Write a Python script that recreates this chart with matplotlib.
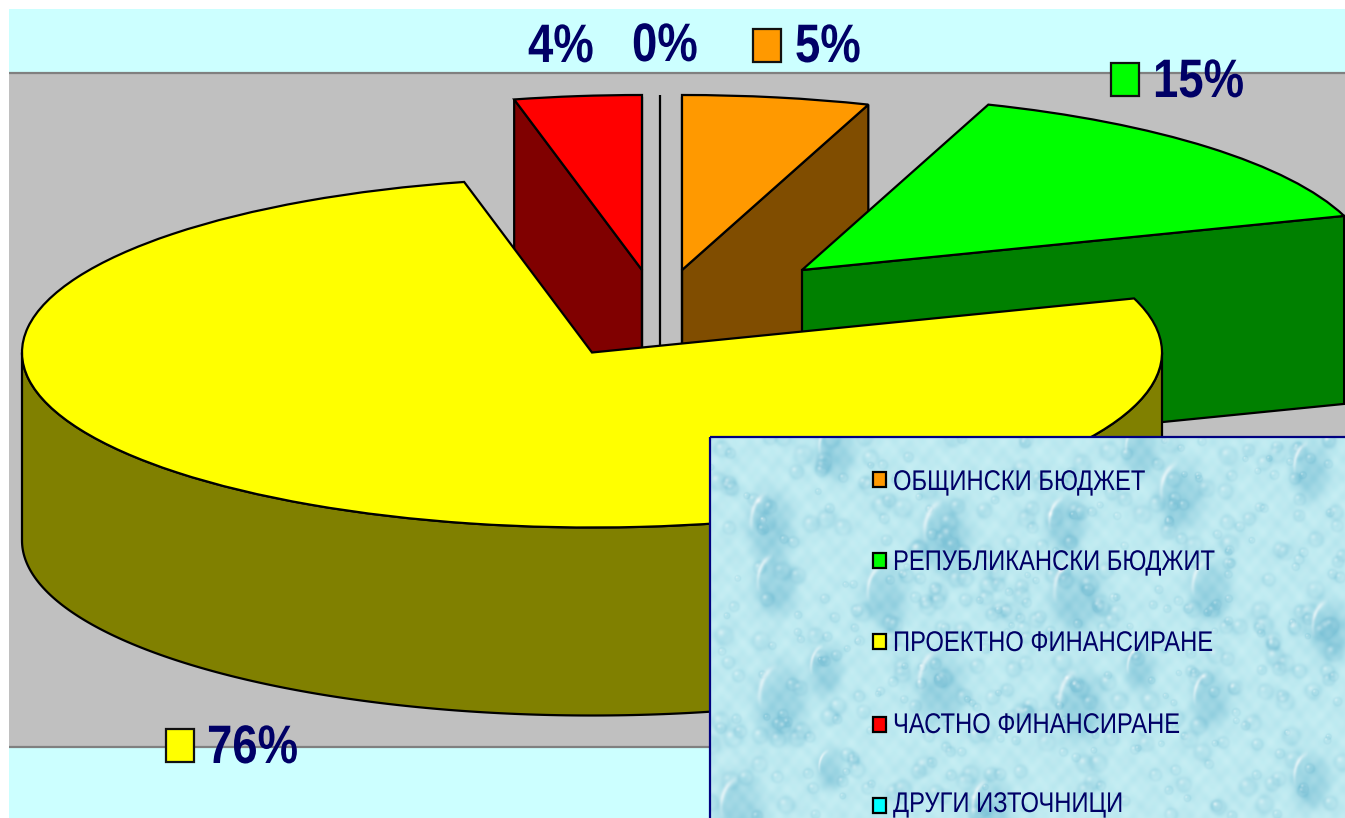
import numpy as np
import matplotlib
matplotlib.use("Agg")
import matplotlib.pyplot as plt
import matplotlib.patheffects as pe
from matplotlib.patches import Wedge, Polygon, Rectangle
from matplotlib.transforms import Affine2D

# ---- data ----
categories = ["ОБЩИНСКИ БЮДЖЕТ", "РЕПУБЛИКАНСКИ БЮДЖИТ", "ПРОЕКТНО ФИНАНСИРАНЕ",
              "ЧАСТНО ФИНАНСИРАНЕ", "ДРУГИ ИЗТОЧНИЦИ"]
shares = [5.3, 14.7, 76.4, 3.6, 0.0]
pct_labels = ["5%", "15%", "76%", "4%", "0%"]

# ---- styles and layout (pixel space of the picture) ----
W, H = 1345, 818
top_colors = ["#FF9900", "#00FF00", "#FFFF00", "#FF0000", "#00FFFF"]
side_colors = ["#804D00", "#008000", "#808000", "#800000", "#008080"]
centers = [(682, 270), (802, 270), (592, 352.5), (642, 270), (660, 270)]
RX, RY, DEPTH = 570, 175, 188
NAVY = "#000066"
LW = 1.6
label_pos = [(795, 62), (1153, 97), (207, 763), (528, 62), (632, 61)]
swatch_pos = [(753, 29), (1111, 63), (166, 729), None, None]
legend_key_y = [479, 560, 641, 724, 805]
legend_text_y = [490, 570, 651, 733, 812]
plt.rcParams["font.family"] = ["Liberation Sans", "DejaVu Sans"]

# large drops of the legend's backdrop, picture pixels relative to the panel: x, y, size
big_drops = [(125, 10, 20), (430, 10, 18), (60, 85, 24), (235, 95, 26), (355, 85, 20),
             (470, 55, 24), (65, 145, 22), (175, 155, 22), (365, 155, 26), (500, 150, 22),
             (115, 230, 18), (230, 245, 26), (70, 260, 26), (370, 265, 26), (430, 230, 16),
             (30, 370, 24), (280, 370, 22), (500, 260, 20), (120, 330, 14), (600, 30, 20),
             (620, 190, 22), (600, 340, 20)]

fig = plt.figure(figsize=(W / 100, H / 100), dpi=100, facecolor="white")
ax = fig.add_axes([0, 0, 1, 1])


class Condense(pe.AbstractPathEffect):
    """Narrows glyphs horizontally about the text origin; Arial Narrow look."""

    def __init__(self, sx, x0):
        super().__init__()
        self.sx, self.x0 = sx, x0

    def draw_path(self, renderer, gc, tpath, affine, rgbFace=None):
        x = ax.transData.transform((self.x0, 0))[0]
        squeeze = Affine2D().translate(-x, 0).scale(self.sx, 1).translate(x, 0)
        renderer.draw_path(gc, tpath, affine + squeeze, rgbFace)


def drop_texture(w, h):
    """Pale water-drop pattern for the legend background (decoration only)."""
    yy, xx = np.mgrid[0:h, 0:w].astype(float)
    shade = 0.16 * (0.5 + 0.5 * np.sin(xx / 6.1 + np.sin(yy / 9.0)) * np.sin(yy / 5.3 + np.sin(xx / 11.0)))
    glow = 0.12 * (0.5 + 0.5 * np.sin(xx / 2.3) * np.sin(yy / 2.9))
    # tiny bubbles scattered by a fixed hash of their index
    for k in range(520):
        x0 = (np.sin(k * 12.9898) * 43758.5453) % 1 * w
        y0 = (np.sin(k * 78.233) * 12543.1234) % 1 * h
        r = 2.5 + 6 * ((np.sin(k * 39.425) * 9631.77) % 1)
        d = np.hypot(xx - x0, yy - y0) / r
        shade += 0.30 * np.exp(-d ** 2) * 0.6 + 0.16 * np.exp(-((d - 1) / 0.35) ** 2)
        glow += 0.28 * np.exp(-(np.hypot(xx - x0 + 0.4 * r, yy - y0 + 0.4 * r) / (0.35 * r)) ** 2)
    for x0, y0, r in big_drops:
        dx, dy = (xx - x0) / r, (yy - y0) / (1.5 * r)
        d = np.hypot(dx, dy)
        fall = np.clip(0.35 + 0.65 * (dy + 1) / 2, 0, 1)
        shade += 0.8 * np.exp(-d ** 4) * fall
        arc = np.exp(-((d - 0.8) / 0.09) ** 2) * np.clip(-dx - 0.1, 0, 1) * np.clip(0.3 - dy, 0, 1)
        glow += 1.3 * arc
    shade = np.clip(shade, 0, 1)[..., None]
    glow = np.clip(glow, 0, 0.9)[..., None]
    base = np.array([192, 236, 242]) / 255
    dark = np.array([125, 195, 215]) / 255
    img = base * (1 - shade) + dark * shade
    return img * (1 - glow) + glow


def ring(c, a1, a2, drop=0):
    t = np.radians(np.linspace(a1, a2, 240))
    return np.column_stack([c[0] + RX * np.cos(t), c[1] - RY * np.sin(t) + drop])


def rim(c, a):
    t = np.radians(a)
    return c[0] + RX * np.cos(t), c[1] - RY * np.sin(t)


def wall_cut(i, a):
    c = centers[i]
    x, y = rim(c, a)
    pts = [c, (x, y), (x, y + DEPTH), (c[0], c[1] + DEPTH)]
    ax.add_patch(Polygon(pts, closed=True, fc=side_colors[i], ec="black", lw=LW, zorder=z[i]))


# background bands: lines only along the top and bottom of the grey wall
ax.add_patch(Rectangle((9, 9), W, H, fc="#CCFFFF", ec="none", zorder=0))
ax.add_patch(Rectangle((9, 72), W, 675, fc="#C0C0C0", ec="none", zorder=0.5))
for y in (72.5, 747):
    ax.plot([9, W], [y, y], color="#808080", lw=1.6, zorder=0.6, solid_capstyle="butt")

# slice angles: clockwise from 12 o'clock
ends = 90 - np.cumsum(shares) * 3.6
starts = np.r_[90, ends[:-1]]
z = {4: 1, 3: 2, 0: 3, 1: 5, 2: 7}

# zero slice is only a line
xc, yc = rim(centers[4], starts[4])
ax.plot([xc, xc], [yc, centers[4][1] + DEPTH - 113], color="black", lw=LW, zorder=1, solid_capstyle="butt")

# cut faces that face the viewer
wall_cut(3, starts[3] + 0)          # red
wall_cut(0, ends[0])                # orange
wall_cut(1, ends[1])                # green

# red and orange inner straight edges reach down behind the big slice
for i in (3, 0):
    ax.plot([centers[i][0]] * 2, [centers[i][1] - RY + 3, centers[i][1] + DEPTH], color="black", lw=LW, zorder=z[i] + 0.5)

# outer wall of the big slice
c = centers[2]
front = ring(c, 180, 360)
ax.add_patch(Polygon(np.vstack([front, ring(c, 360, 180, DEPTH)]), closed=True,
                     fc=side_colors[2], ec="black", lw=LW, zorder=6))

# top faces
for i in range(4):
    cx, cy = centers[i]
    tr = Affine2D().scale(RX, -RY).translate(cx, cy) + ax.transData
    ax.add_patch(Wedge((0, 0), 1, ends[i], starts[i], fc=top_colors[i], ec="black", lw=LW,
                       transform=tr, zorder=z[i] + 0.6))

# percentage labels and their keys
for i, lab in enumerate(pct_labels):
    x, y = label_pos[i]
    t = ax.text(x, y, lab, color=NAVY, fontsize=39, fontweight="bold", ha="left", va="baseline", zorder=12)
    t.set_path_effects([Condense(0.84, x)])
    if swatch_pos[i] is not None:
        ax.add_patch(Rectangle(swatch_pos[i], 28, 33, fc=top_colors[i], ec="#111111", lw=LW, zorder=12))

# legend panel
lx, ly = 710, 437
ax.imshow(drop_texture(W - lx, H - ly), extent=(lx, W, H, ly), aspect="auto", zorder=13, interpolation="bilinear")
ax.add_patch(Rectangle((lx, ly), W - lx + 5, H - ly + 5, fc="none", ec="#000080", lw=LW, zorder=14))
for name, col, yk, yt in zip(categories, top_colors, legend_key_y, legend_text_y):
    ax.add_patch(Rectangle((873, yk - 7.5), 13, 15, fc=col, ec="black", lw=LW, zorder=15))
    t = ax.text(893, yt, name, color=NAVY, fontsize=20.5, ha="left", va="baseline", zorder=15)
    t.set_path_effects([Condense(0.835, 893)])

ax.set_xlim(0, W)
ax.set_ylim(H, 0)
ax.axis("off")
fig.savefig("out.png", dpi=100, facecolor="white")
